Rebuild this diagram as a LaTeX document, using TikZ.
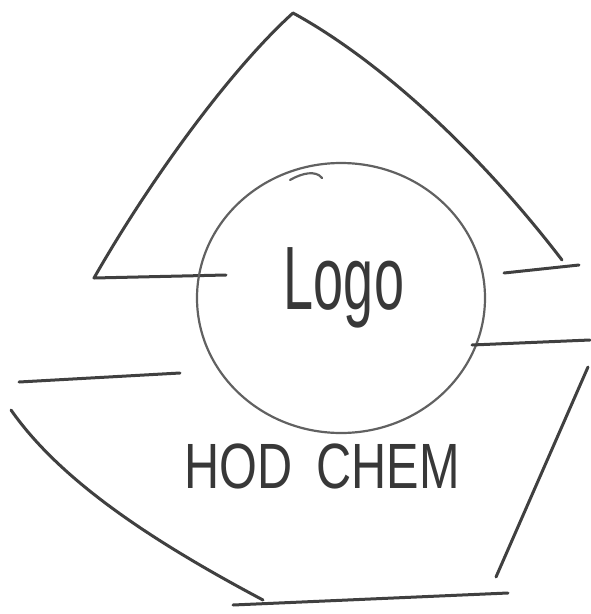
\documentclass[tikz,border=0pt]{standalone}
\usepackage{graphicx}
\usepackage{fontspec}
\setmainfont{Liberation Sans}
\tikzset{
  pencil/.style={draw=black!75, line width=3pt, line cap=round, line join=round},
  thinpencil/.style={draw=black!62, line width=2.2pt, line cap=round, line join=round},
  handtext/.style={text=black!78, inner sep=0pt}
}
\begin{document}
\begin{tikzpicture}[x=1pt,y=-1pt]
\useasboundingbox (0,0) rectangle (590,614);
% top shape
\draw[pencil] (226,275) -- (94,278) .. controls (150,180) and (230,70) .. (293,13)
  .. controls (370,55) and (470,140) .. (562,260);
\draw[pencil] (504,273) -- (579,265);
% circle
\draw[thinpencil] (341,298) ellipse [x radius=144, y radius=135];
\draw[thinpencil] (290,180) .. controls (302,173) and (316,170) .. (322,178);
% lower shape
\draw[pencil] (19,382) -- (180,373);
\draw[pencil] (11,410) .. controls (60,480) and (150,540) .. (263,600);
\draw[pencil] (233,605) -- (508,593);
\draw[pencil] (496,577) -- (588,367);
\draw[pencil] (472,345) -- (590,340);
% texts
\node[handtext] (logo) at (344,288) {\scalebox{0.6}[1]{\fontsize{90}{90}\selectfont Logo}};
\node[handtext] (hod) at (322,466) {\scalebox{0.76}[1]{\fontsize{64}{64}\selectfont HOD\hspace{0.5em}CHEM}};
\end{tikzpicture}
\end{document}
